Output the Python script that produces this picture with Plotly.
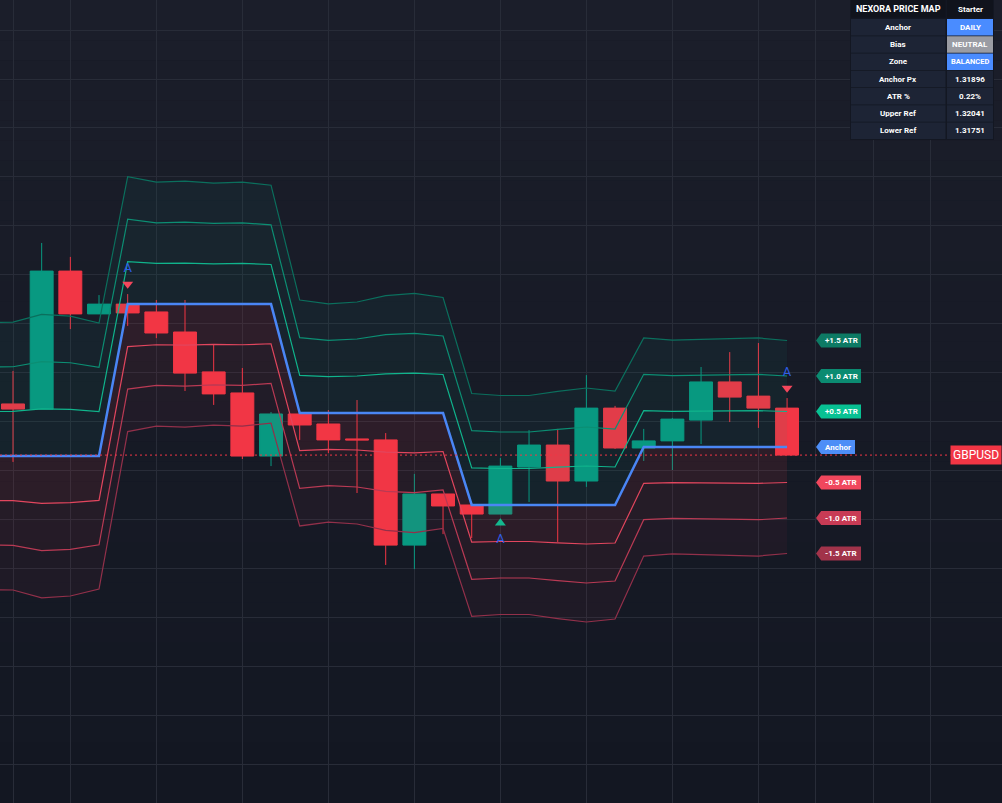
import plotly.graph_objects as go

# ---- candles (bar 0 = first visible bar) ----
opens = [1.32072, 1.32051, 1.32615, 1.32440, 1.32480, 1.32448, 1.32366, 1.32203,
         1.32117, 1.31859, 1.32031, 1.31990, 1.31929, 1.31925, 1.31495, 1.31704,
         1.31659, 1.31622, 1.31814, 1.31904, 1.31757, 1.32055, 1.31892, 1.31921,
         1.32006, 1.32162, 1.32104, 1.32055]
highs = [1.32207, 1.32730, 1.32673, 1.32517, 1.32521, 1.32497, 1.32497, 1.32317,
         1.32219, 1.32039, 1.32035, 1.32047, 1.32088, 1.31953, 1.31786, 1.31704,
         1.31667, 1.31851, 1.31965, 1.31970, 1.32190, 1.32064, 1.31970, 1.32015,
         1.32223, 1.32284, 1.32321, 1.32096]
lows = [1.31835, 1.32051, 1.32378, 1.32440, 1.32391, 1.32341, 1.32125, 1.32068,
        1.31847, 1.31818, 1.31925, 1.31871, 1.31708, 1.31414, 1.31397, 1.31540,
        1.31524, 1.31622, 1.31671, 1.31508, 1.31733, 1.31888, 1.31839, 1.31802,
        1.31908, 1.31998, 1.31974, 1.31863]
closes = [1.32051, 1.32615, 1.32440, 1.32480, 1.32444, 1.32362, 1.32198, 1.32113,
          1.31859, 1.32031, 1.31986, 1.31925, 1.31925, 1.31495, 1.31704, 1.31655,
          1.31622, 1.31818, 1.31904, 1.31757, 1.32055, 1.31892, 1.31921, 1.32010,
          1.32162, 1.32100, 1.32055, 1.31863]
bars = list(range(len(closes)))

# ---- indicator: anchor + ATR, starting one bar before the first candle ----
band_idx = list(range(-1, len(closes)))
anchor = [1.31859, 1.31859, 1.31859, 1.31859, 1.31859,
          1.32480, 1.32480, 1.32480, 1.32480, 1.32480, 1.32480,
          1.32035, 1.32035, 1.32035, 1.32035, 1.32035, 1.32035,
          1.31659, 1.31659, 1.31659, 1.31659, 1.31659, 1.31659,
          1.31896, 1.31896, 1.31896, 1.31896, 1.31896, 1.31896]
atr = [0.003637, 0.003650, 0.003862, 0.003813, 0.003625, 0.003474, 0.003323,
       0.003351, 0.003298, 0.003323, 0.003241, 0.003078, 0.002971, 0.003024,
       0.003200, 0.003257, 0.003147, 0.003037, 0.002984, 0.002984, 0.003094,
       0.003188, 0.003106, 0.002971, 0.002914, 0.002930, 0.002943, 0.002971,
       0.002902]
levels = [0.5, 1.0, 1.5]

# anchor-change signals
sig_bars = [4, 17, 27]
sig_dirs = ["down", "up", "down"]

symbol = "GBPUSD"
grid_x = [0, 2, 5, 8, 11, 14, 17, 20, 23, 26, 28, 30, 32]

# info table text
table_title = ["NEXORA PRICE MAP", "Starter"]
row_names = ["Anchor", "Bias", "Zone", "Anchor Px", "ATR %", "Upper Ref", "Lower Ref"]
mode_vals = ["DAILY", "NEUTRAL", "BALANCED"]

W, H = 1002, 803
x_range = [-0.4534, 34.497]
y_range = [1.30441, 1.33723]
ppx = (y_range[1] - y_range[0]) / H  # price per pixel

GREEN = "#089981"
RED = "#f23645"
up_line = {0.5: "#10b48c", 1.0: "#0c8e73", 1.5: "#0b6f5d"}
dn_line = {0.5: "#e2465e", 1.0: "#b93a54", 1.5: "#92304a"}
up_fill = {0.5: "rgba(8,153,129,0.08)", 1.0: "rgba(8,153,129,0.07)", 1.5: "rgba(8,153,129,0.065)"}
dn_fill = {0.5: "rgba(242,54,69,0.10)", 1.0: "rgba(242,54,69,0.07)", 1.5: "rgba(242,54,69,0.05)"}

fig = go.Figure()

# upper zone fills
fig.add_trace(go.Scatter(x=band_idx, y=anchor, mode="lines", line=dict(width=0), showlegend=False, hoverinfo="skip"))
for k in levels:
    fig.add_trace(go.Scatter(x=band_idx, y=[a + k * t for a, t in zip(anchor, atr)], mode="lines",
                             line=dict(color=up_line[k], width=1.2), fill="tonexty",
                             fillcolor=up_fill[k], showlegend=False, hoverinfo="skip"))
# lower zone fills
fig.add_trace(go.Scatter(x=band_idx, y=anchor, mode="lines", line=dict(width=0), showlegend=False, hoverinfo="skip"))
for k in levels:
    fig.add_trace(go.Scatter(x=band_idx, y=[a - k * t for a, t in zip(anchor, atr)], mode="lines",
                             line=dict(color=dn_line[k], width=1.2), fill="tonexty",
                             fillcolor=dn_fill[k], showlegend=False, hoverinfo="skip"))

# anchor line
fig.add_trace(go.Scatter(x=band_idx, y=anchor, mode="lines", line=dict(color="#4a86f5", width=2.5),
                         showlegend=False, hoverinfo="skip"))

# last price dotted line
fig.add_trace(go.Scatter(x=[x_range[0], 32.7], y=[closes[-1], closes[-1]], mode="lines",
                         line=dict(color=RED, width=1, dash="2px,3px"), showlegend=False, hoverinfo="skip"))

# candles
fig.add_trace(go.Candlestick(x=bars, open=opens, high=highs, low=lows, close=closes,
                             increasing=dict(line=dict(color=GREEN, width=1), fillcolor=GREEN),
                             decreasing=dict(line=dict(color=RED, width=1), fillcolor=RED),
                             showlegend=False, hoverinfo="skip"))

# signal markers
tri_x, tri_y, tri_sym, tri_col, a_y = [], [], [], [], []
for b, d in zip(sig_bars, sig_dirs):
    tri_x.append(b)
    if d == "down":
        tri_y.append(highs[b] + 10 * ppx)
        a_y.append(highs[b] + 25 * ppx)
        tri_sym.append("triangle-down")
        tri_col.append("#f4475c")
    else:
        tri_y.append(lows[b] - 9 * ppx)
        a_y.append(lows[b] - 26 * ppx)
        tri_sym.append("triangle-up")
        tri_col.append("#14b88e")
fig.add_trace(go.Scatter(x=tri_x, y=tri_y, mode="markers",
                         marker=dict(symbol=tri_sym, color=tri_col, size=9.5, line=dict(width=0)),
                         showlegend=False, hoverinfo="skip"))
fig.add_trace(go.Scatter(x=tri_x, y=a_y, mode="text", text=["A"] * len(tri_x),
                         textfont=dict(color="#2f5ee8", size=13, family="Roboto"),
                         showlegend=False, hoverinfo="skip"))

shapes = []
annotations = []

# background gradient
n_strips = 40
top_c, bot_c = (27, 30, 42), (19, 23, 34)
for i in range(n_strips):
    f = i / (n_strips - 1)
    c = tuple(round(top_c[j] + (bot_c[j] - top_c[j]) * f) for j in range(3))
    shapes.append(dict(type="rect", xref="paper", yref="paper", x0=0, x1=1,
                       y1=1 - i / n_strips, y0=1 - (i + 1) / n_strips,
                       fillcolor="rgb(%d,%d,%d)" % c, line=dict(width=0), layer="below"))

# right-side tags for the last bar's levels
last_a, last_t = anchor[-1], atr[-1]
tags = [("+1.5 ATR", 1.5, "#0d7a64"), ("+1.0 ATR", 1.0, "#0b8b71"), ("+0.5 ATR", 0.5, "#08c193"),
        ("Anchor", 0.0, "#4d8ef7"),
        ("-0.5 ATR", -0.5, "#f0475d"), ("-1.0 ATR", -1.0, "#c83b55"), ("-1.5 ATR", -1.5, "#a1334a")]
half = 7 * ppx
for label, k, col in tags:
    y = last_a + k * last_t
    tip, left = 28.01, 28.19
    right = 29.37 if label == "Anchor" else 29.58
    shapes.append(dict(type="path", xref="x", yref="y",
                       path=f"M {tip},{y} L {left},{y + half} L {right},{y + half} L {right},{y - half} L {left},{y - half} Z",
                       fillcolor=col, line=dict(width=0), layer="above"))
    annotations.append(dict(x=(left + right) / 2, y=y, xref="x", yref="y", text=label, showarrow=False,
                            font=dict(color="white", size=8, family="Roboto", weight="bold")))

annotations.append(dict(x=1, y=closes[-1], xref="paper", yref="y", xanchor="right", text=symbol,
                        showarrow=False, bgcolor=RED, borderpad=2, width=46, align="left",
                        font=dict(color="white", size=12, family="Roboto")))

# info table (drawn in pixel positions of the page)
upper_ref = last_a + 0.5 * last_t
lower_ref = last_a - 0.5 * last_t
row_vals = mode_vals + [f"{last_a:.5f}", f"{last_t / last_a * 100:.2f}%", f"{upper_ref:.5f}", f"{lower_ref:.5f}"]
cell_bg = "#1d2435"
val_bg = ["#4a8cff", "#9a9ca3", "#4a8cff", cell_bg, cell_bg, cell_bg, cell_bg]


def px_rect(x0, x1, y0, y1, color):
    return dict(type="rect", xref="paper", yref="paper", x0=x0 / W, x1=x1 / W,
                y0=1 - y1 / H, y1=1 - y0 / H, fillcolor=color, line=dict(width=0), layer="above")


def px_text(x, y, text, size, bold=True):
    return dict(x=x / W, y=1 - y / H, xref="paper", yref="paper", text=text, showarrow=False,
                xanchor="center", yanchor="middle",
                font=dict(color="white", size=size, family="Roboto", weight="bold" if bold else "normal"))


c0, c1, c2, c3 = 851, 945.5, 947, 993
shapes.append(px_rect(850, 994, 0, 140, "#131722"))
shapes.append(px_rect(c0, c1, 0, 17.5, "#10131c"))
shapes.append(px_rect(c2, c3, 0, 17.5, "#10131c"))
annotations.append(px_text((c0 + c1) / 2, 9, table_title[0], 9))
annotations.append(px_text((c2 + c3) / 2, 9, table_title[1], 8))
for i, (nm, val) in enumerate(zip(row_names, row_vals)):
    top = 19 + i * 17.25
    bot = top + 16.6
    shapes.append(px_rect(c0, c1, top, bot, cell_bg))
    shapes.append(px_rect(c2, c3, top, bot, val_bg[i]))
    annotations.append(px_text((c0 + c1) / 2, (top + bot) / 2, nm, 8))
    annotations.append(px_text((c2 + c3) / 2, (top + bot) / 2, val, 8 if i != 2 else 7.5))

fig.update_layout(
    width=W, height=H, margin=dict(l=0, r=0, t=0, b=0),
    paper_bgcolor="#131722", plot_bgcolor="#161a25",
    shapes=shapes, annotations=annotations,
    boxgap=0.2, boxgroupgap=0,
    showlegend=False,
)
fig.update_xaxes(range=x_range, showticklabels=False, zeroline=False, tickmode="array", tickvals=grid_x,
                 showgrid=True, gridcolor="#282c38", gridwidth=1, rangeslider_visible=False, fixedrange=True)
fig.update_yaxes(range=y_range, showticklabels=False, zeroline=False, tick0=0, dtick=0.002,
                 showgrid=True, gridcolor="#282c38", gridwidth=1, fixedrange=True)

fig.write_html("out.html", config={"displayModeBar": False},
               post_script="document.body.style.margin='0';document.body.style.background='#131722';")
